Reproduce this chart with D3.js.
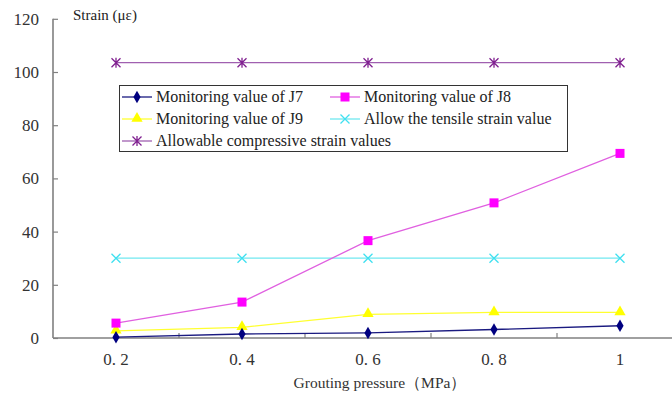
<!DOCTYPE html>
<html>
<head>
<meta charset="utf-8">
<script src="https://cdn.jsdelivr.net/npm/d3@7"></script>
<style>
  html, body { margin: 0; padding: 0; background: #fff; }
  svg text { font-family: "Liberation Serif", "DejaVu Serif", Times, serif !important; }
</style>
</head>
<body>
<div id="chart"></div>
<script>
// data
const categories = ['0. 2', '0. 4', '0. 6', '0. 8', '1'];
const j7Values = [0.3, 1.5, 1.9, 3.2, 4.6];
const j8Values = [5.6, 13.5, 36.6, 50.8, 69.4];
const j9Values = [2.7, 4.0, 8.9, 9.6, 9.6];
const tensileValues = [30, 30, 30, 30, 30];
const compressiveValues = [103.5, 103.5, 103.5, 103.5, 103.5];
const yTicks = [0, 20, 40, 60, 80, 100, 120];

const series = [
  { name: 'Monitoring value of J7', values: j7Values, line: '#1a1a80', fill: '#000080', marker: 'diamond' },
  { name: 'Monitoring value of J8', values: j8Values, line: '#e060e0', fill: '#ff00ff', marker: 'square' },
  { name: 'Monitoring value of J9', values: j9Values, line: '#ffff30', fill: '#ffff00', marker: 'triangle' },
  { name: 'Allow the tensile strain value', values: tensileValues, line: '#70e8f0', fill: '#40e0f0', marker: 'cross' },
  { name: 'Allowable compressive strain values', values: compressiveValues, line: '#a060b0', fill: '#802090', marker: 'star' }
];

const width = 672, height = 397;
const svg = d3.select('#chart').append('svg')
  .attr('width', width)
  .attr('height', height);

// plot area: y axis at 53, category bands 126px wide, last band runs off the page
const x = d3.scaleBand().domain(categories).range([53, 683]);
const y = d3.scaleLinear().domain([0, 120]).range([338, 18.8]);

// y axis, ticks pointing inward
const yAxis = svg.append('g')
  .attr('transform', 'translate(53,0)')
  .call(d3.axisRight(y).tickValues(yTicks).tickSize(5).tickFormat(d3.format('d')));
yAxis.select('.domain').attr('stroke', '#808080').attr('stroke-width', 1.6).attr('d', 'M0,' + y(120) + 'V' + y(0));
yAxis.selectAll('.tick line').attr('stroke', '#808080').attr('stroke-width', 1.2);
yAxis.selectAll('.tick text')
  .attr('x', -14).attr('text-anchor', 'end')
  .attr('font-size', 17).attr('fill', '#333');

// x axis line
svg.append('line')
  .attr('x1', 53).attr('x2', width)
  .attr('y1', y(0)).attr('y2', y(0))
  .attr('stroke', '#808080').attr('stroke-width', 1.6);

// tick marks between categories
svg.append('g').selectAll('line')
  .data(categories.slice(0, -1))
  .enter().append('line')
  .attr('x1', d => x(d) + x.bandwidth()).attr('x2', d => x(d) + x.bandwidth())
  .attr('y1', y(0)).attr('y2', y(0) - 5)
  .attr('stroke', '#808080').attr('stroke-width', 1.2);

// category labels
const xAxis = svg.append('g')
  .attr('transform', 'translate(0,' + y(0) + ')')
  .call(d3.axisBottom(x).tickSize(0).tickPadding(15));
xAxis.select('.domain').remove();
xAxis.selectAll('.tick text')
  .attr('font-size', 17).attr('fill', '#333');

// axis titles
svg.append('text')
  .attr('x', 73).attr('y', 20)
  .attr('font-size', 15).attr('fill', '#222')
  .text('Strain (με)');
svg.append('text')
  .attr('x', 380).attr('y', 388)
  .attr('text-anchor', 'middle')
  .attr('font-size', 15.5).attr('fill', '#333')
  .text('Grouting pressure（MPa）');

const cx = d => x(d) + x.bandwidth() / 2;

function drawMarker(g, type, color, px, py) {
  if (type === 'diamond') {
    g.append('path').attr('d', d3.symbol(d3.symbolDiamond, 45)())
      .attr('transform', 'translate(' + px + ',' + py + ')').attr('fill', color);
  } else if (type === 'square') {
    g.append('rect').attr('x', px - 4.5).attr('y', py - 4.5).attr('width', 9).attr('height', 9).attr('fill', color);
  } else if (type === 'triangle') {
    g.append('path').attr('d', d3.symbol(d3.symbolTriangle, 55)())
      .attr('transform', 'translate(' + px + ',' + (py - 0.5) + ')').attr('fill', color);
  } else if (type === 'cross') {
    g.append('path').attr('d', 'M-4.5,-4.5L4.5,4.5M-4.5,4.5L4.5,-4.5')
      .attr('transform', 'translate(' + px + ',' + py + ')')
      .attr('stroke', color).attr('stroke-width', 1.3).attr('fill', 'none');
  } else if (type === 'star') {
    g.append('path').attr('d', 'M-4.5,-4.5L4.5,4.5M-4.5,4.5L4.5,-4.5M0,-5L0,5')
      .attr('transform', 'translate(' + px + ',' + py + ')')
      .attr('stroke', color).attr('stroke-width', 1.3).attr('fill', 'none');
  }
}

const line = d3.line().x(d => cx(d.cat)).y(d => y(d.value));

// draw in reverse so J7 sits on top
series.slice().reverse().forEach(s => {
  const pts = categories.map((c, i) => ({ cat: c, value: s.values[i] }));
  const g = svg.append('g');
  g.append('path').datum(pts)
    .attr('d', line)
    .attr('fill', 'none')
    .attr('stroke', s.line)
    .attr('stroke-width', 1.3);
  pts.forEach(p => drawMarker(g, s.marker, s.fill, cx(p.cat), y(p.value)));
});

// legend
const legend = svg.append('g');
legend.append('rect')
  .attr('x', 119.5).attr('y', 85.5).attr('width', 448).attr('height', 66)
  .attr('fill', '#fff').attr('stroke', '#333').attr('stroke-width', 1);

const legendPos = [
  { x: 122, y: 97 }, { x: 330, y: 97 },
  { x: 122, y: 119 }, { x: 330, y: 119 },
  { x: 122, y: 141 }
];
series.forEach((s, i) => {
  const p = legendPos[i];
  legend.append('line')
    .attr('x1', p.x).attr('x2', p.x + 30)
    .attr('y1', p.y).attr('y2', p.y)
    .attr('stroke', s.line).attr('stroke-width', 1.3);
  drawMarker(legend, s.marker, s.fill, p.x + 15, p.y);
  legend.append('text')
    .attr('x', p.x + 34).attr('y', p.y + 5)
    .attr('font-size', 16).attr('fill', '#222')
    .text(s.name);
});
</script>
</body>
</html>
